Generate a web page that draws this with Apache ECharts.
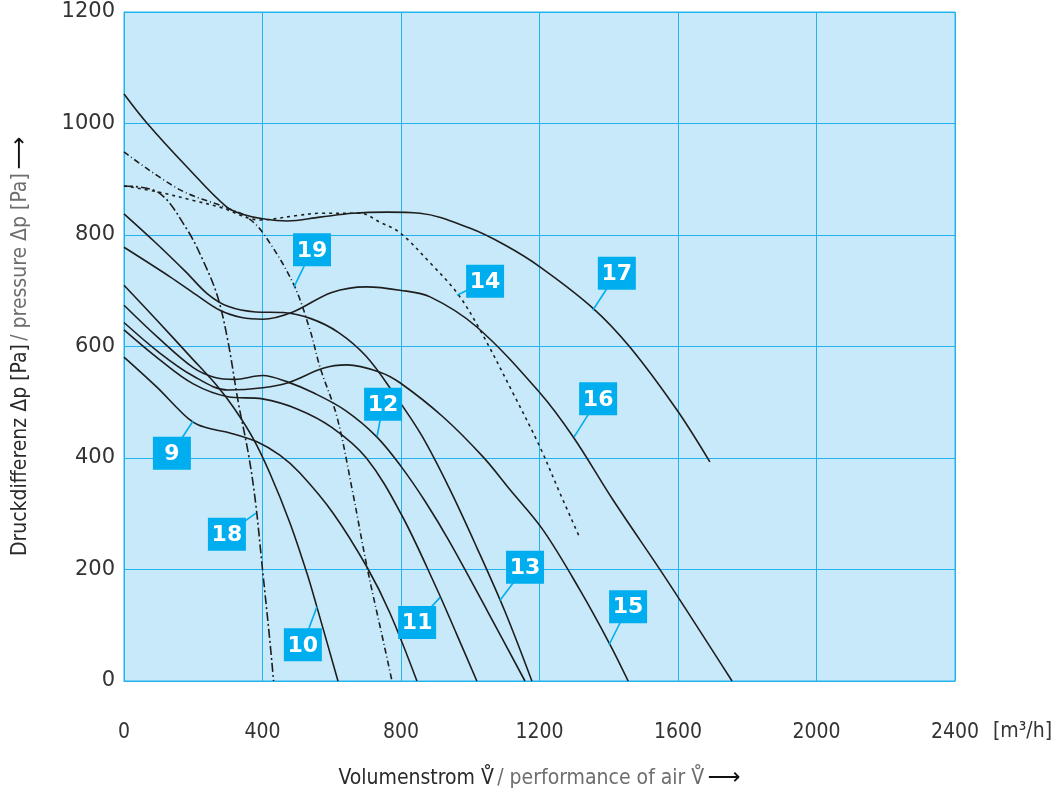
<!DOCTYPE html>
<html>
<head>
<meta charset="utf-8">
<script src="https://cdn.jsdelivr.net/npm/echarts@6/dist/echarts.min.js"></script>
<style>
  html, body { margin: 0; padding: 0; background: #ffffff; }
  #chart { width: 1058px; height: 794px; }
</style>
</head>
<body>
<div id="chart"></div>
<script>
// Fan characteristic curves: volume flow [m³/h] vs. pressure difference [Pa]
const xTicks = { min: 0, max: 2400, step: 400 };
const yTicks = { min: 0, max: 1200, step: 200 };

const curve9  = [[0,581],[95,527],[150,492],[185,471],[215,459],[260,451],[306,445],[384,429],[450,405],[508,373],[604,301],[702,204],[768,122],[846,0]];
const curve10 = [[0,710],[95,647],[193,581],[268,530],[317,490],[372,436],[421,373],[479,284],[528,194],[557,133],[618,0]];
const curve11 = [[0,630],[100,578],[200,533],[300,510],[400,506],[500,488],[600,455],[700,400],[800,300],[900,170],[960,85],[1019,0]];
const curve12 = [[0,674],[100,615],[200,562],[260,545],[320,541],[400,548],[470,537],[550,516],[640,485],[730,438],[800,385],[870,322],[940,250],[1050,125],[1158,0]];
const curve13 = [[0,838],[90,787],[180,733],[240,695],[300,672],[380,662],[460,661],[540,650],[620,625],[700,582],[780,515],[860,440],[940,345],[1020,238],[1100,125],[1178,0]];
const curve14 = [[0,888],[100,877],[200,862],[277,850],[393,827],[500,835],[566,839],[682,839],[739,823],[797,804],[884,750],[962,696],[1028,630],[1123,517],[1201,420],[1259,337],[1317,256]];
const curve15 = [[0,643],[100,590],[200,547],[300,522],[401,526],[474,535],[575,561],[644,567],[739,554],[797,535],[921,474],[1037,402],[1115,343],[1210,271],[1317,163],[1404,65],[1456,0]];
const curve16 = [[0,778],[133,725],[210,692],[277,665],[340,652],[401,649],[488,662],[600,697],[700,707],[797,701],[884,689],[1019,635],[1201,517],[1297,438],[1412,325],[1568,181],[1756,0]];
const curve17 = [[0,1053],[66,1001],[182,922],[297,850],[350,836],[401,829],[471,825],[566,832],[661,839],[760,841],[855,839],[1000,812],[1100,782],[1201,743],[1354,669],[1461,599],[1597,486],[1692,393]];
const curve18 = [[0,888],[100,876],[180,812],[230,752],[270,690],[300,610],[330,500],[360,405],[380,320],[400,200],[420,80],[432,0]];
const curve19 = [[0,949],[162,881],[300,848],[355,832],[401,804],[488,714],[537,630],[566,563],[615,474],[661,337],[702,204],[748,74],[774,0]];

// Curve numbers and the point on each curve their leader line touches
const curveNames = ['9','10','11','12','13','14','15','16','17','18','19'];
const curveData  = [curve9, curve10, curve11, curve12, curve13, curve14, curve15, curve16, curve17, curve18, curve19];
const curveDash  = ['solid','solid','solid','solid','solid',[3,4],'solid','solid','solid',[9,3,2,3],[6,3,1,3]];
const tagAnchor  = [[199,466],[557,133],[913,150],[731,439],[1086,145],[962,692],[1401,65],[1300,438],[1354,665],[381,301],[491,707]];
const tagOffset  = [[-21,32],[-14,38],[-23,25],[6,-32],[25,-33],[28,-14],[19,-38],[24,-38],[24,-37],[-29,21],[18,-37]];

const GRID_BLUE = '#22b3ec';
const NARROW = "'DejaVu Sans Condensed', 'Liberation Sans Narrow', 'Noto Sans', sans-serif";
const chart = echarts.init(document.getElementById('chart'), null, { renderer: 'canvas' });

const series = curveData.map((d, i) => ({
  name: curveNames[i],
  type: 'line',
  data: d,
  smooth: 0.35,
  showSymbol: false,
  silent: true,
  lineStyle: { color: '#1e1e1e', width: 1.6, type: curveDash[i] },
  z: 3
}));

const titleRich = {
  a: { fontFamily: NARROW, fontSize: 21, color: '#2a2a2a' },
  b: { fontFamily: NARROW, fontSize: 21, color: '#6e6e6e' },
  c: { fontFamily: 'DejaVu Sans', fontSize: 23, color: '#111' }
};

chart.setOption({
  animation: false,
  grid: { left: 124, top: 12, width: 831, height: 669, show: true, containLabel: false,
          outerBoundsMode: 'none',
          backgroundColor: '#c7e9f9', borderColor: GRID_BLUE, borderWidth: 1 },
  xAxis: {
    type: 'value', min: xTicks.min, max: xTicks.max, interval: xTicks.step,
    axisLine: { show: true, lineStyle: { color: GRID_BLUE, width: 1 } },
    axisTick: { show: false },
    splitLine: { show: true, lineStyle: { color: GRID_BLUE, width: 1 } },
    axisLabel: { margin: 41, fontFamily: NARROW, fontSize: 21, color: '#333',
                 formatter: v => String(v) },
    name: '{a|Volumenstrom V\u030A} {b|/ performance of air V\u030A} {c|\u27F6}',
    nameLocation: 'middle', nameGap: 86,
    nameTextStyle: { rich: titleRich }
  },
  yAxis: {
    type: 'value', min: yTicks.min, max: yTicks.max, interval: yTicks.step,
    axisLine: { show: true, lineStyle: { color: GRID_BLUE, width: 1 } },
    axisTick: { show: false },
    splitLine: { show: true, lineStyle: { color: GRID_BLUE, width: 1 } },
    axisLabel: { margin: 9, fontFamily: 'DejaVu Sans', fontSize: 21, color: '#333',
                 formatter: v => String(v) },
    name: '{a|Druckdifferenz \u0394p [Pa]} {b|/ pressure \u0394p [Pa]} {c|\u27F6}',
    nameLocation: 'middle', nameGap: 92, nameRotate: 90,
    nameTextStyle: { rich: titleRich }
  },
  series: series
});

// Numbered tags with leader lines, plus the unit after the last x tick
const graphics = [];
curveNames.forEach((name, i) => {
  const tip = chart.convertToPixel({ gridIndex: 0 }, tagAnchor[i]);
  const cx = tip[0] + tagOffset[i][0];
  const cy = tip[1] + tagOffset[i][1];
  graphics.push({
    type: 'line', z: 10,
    shape: { x1: tip[0], y1: tip[1], x2: cx, y2: cy },
    style: { stroke: '#00aeef', lineWidth: 1.6 }
  });
  graphics.push({
    type: 'rect', z: 11,
    shape: { x: cx - 19, y: cy - 16.5, width: 38, height: 33 },
    style: { fill: '#00aeef' }
  });
  graphics.push({
    type: 'text', z: 12,
    x: cx, y: cy + 1,
    style: { text: name, fill: '#ffffff', fontFamily: 'DejaVu Sans', fontWeight: 'bold',
             fontSize: 22, align: 'center', verticalAlign: 'middle' }
  });
});
const endPx = chart.convertToPixel({ gridIndex: 0 }, [xTicks.max, 0]);
graphics.push({
  type: 'text', z: 12,
  x: endPx[0] + 38, y: endPx[1] + 51,
  style: { text: '[m\u00B3/h]', fill: '#333', fontFamily: NARROW,
           fontSize: 21, align: 'left', verticalAlign: 'middle' }
});
chart.setOption({ graphic: graphics });
</script>
</body>
</html>
